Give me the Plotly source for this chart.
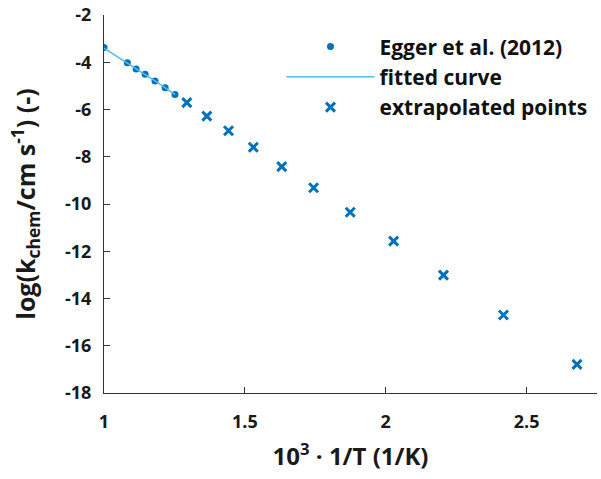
import plotly.graph_objects as go

# Egger et al. (2012) measured points
egger_x = [1.000, 1.083, 1.114, 1.146, 1.181, 1.217, 1.252]
egger_y = [-3.38, -4.02, -4.29, -4.51, -4.79, -5.08, -5.36]

# fitted curve over measured range
fit_x = [1.000, 1.083, 1.114, 1.146, 1.181, 1.217, 1.252]
fit_y = [-3.40, -4.02, -4.27, -4.52, -4.79, -5.08, -5.36]

# extrapolated points
extra_x = [1.294, 1.365, 1.442, 1.530, 1.631, 1.744, 1.874, 2.028, 2.205, 2.418, 2.679]
extra_y = [-5.71, -6.28, -6.90, -7.60, -8.42, -9.31, -10.35, -11.57, -13.01, -14.70, -16.79]

# tick labels
x_ticks = [1, 1.5, 2, 2.5]
x_labels = ["1", "1.5", "2", "2.5"]
y_ticks = [-18, -16, -14, -12, -10, -8, -6, -4, -2]
y_labels = ["-18", "-16", "-14", "-12", "-10", "-8", "-6", "-4", "-2"]

blue = "#0072BD"
light = "#4DBEEE"
font = "Open Sans"

fig = go.Figure()
fig.add_trace(go.Scatter(x=egger_x, y=egger_y, mode="markers", name="Egger et al. (2012)",
                         marker=dict(color=blue, size=7, symbol="circle")))
fig.add_trace(go.Scatter(x=fit_x, y=fit_y, mode="lines", name="fitted curve",
                         line=dict(color=light, width=1.5)))
fig.add_trace(go.Scatter(x=extra_x, y=extra_y, mode="markers", name="extrapolated points",
                         marker=dict(color=blue, size=9, symbol="x-thin",
                                     line=dict(color=blue, width=3))))

axis_common = dict(showgrid=False, zeroline=False, showline=True, linecolor="#333333",
                   linewidth=1.2, ticks="inside", ticklen=6, tickcolor="#333333",
                   automargin=False, ticklabeloverflow="allow",
                   tickfont=dict(family=font, size=18, color="#1a1a1a", weight="bold"))

fig.update_layout(
    width=601, height=479,
    margin=dict(l=104, r=4, t=15, b=86),
    paper_bgcolor="white", plot_bgcolor="white",
    font=dict(family=font, color="#1a1a1a"),
    showlegend=True,
    legend=dict(x=0.36, y=0.97, xanchor="left", yanchor="top", bgcolor="rgba(0,0,0,0)",
                font=dict(family=font, size=21, color="#111111", weight="bold"),
                itemwidth=88, tracegroupgap=0),
    xaxis=dict(range=[1, 2.75], tickvals=x_ticks, ticktext=x_labels,
               ticklabelstandoff=12,
               title=dict(text="10<sup>3</sup> · 1/T (1/K)", standoff=16,
                          font=dict(family=font, size=24, weight="bold")),
               **axis_common),
    yaxis=dict(range=[-18, -2], tickvals=y_ticks, ticktext=y_labels,
               ticklabelstandoff=8,
               title=dict(text="log(k<sub>chem</sub>/cm s<sup>-1</sup>) (-)", standoff=22,
                          font=dict(family=font, size=25, weight="bold")),
               **axis_common),
)

fig.write_html("out.html", config={"displayModeBar": False},
               post_script="document.body.style.margin='0';")
